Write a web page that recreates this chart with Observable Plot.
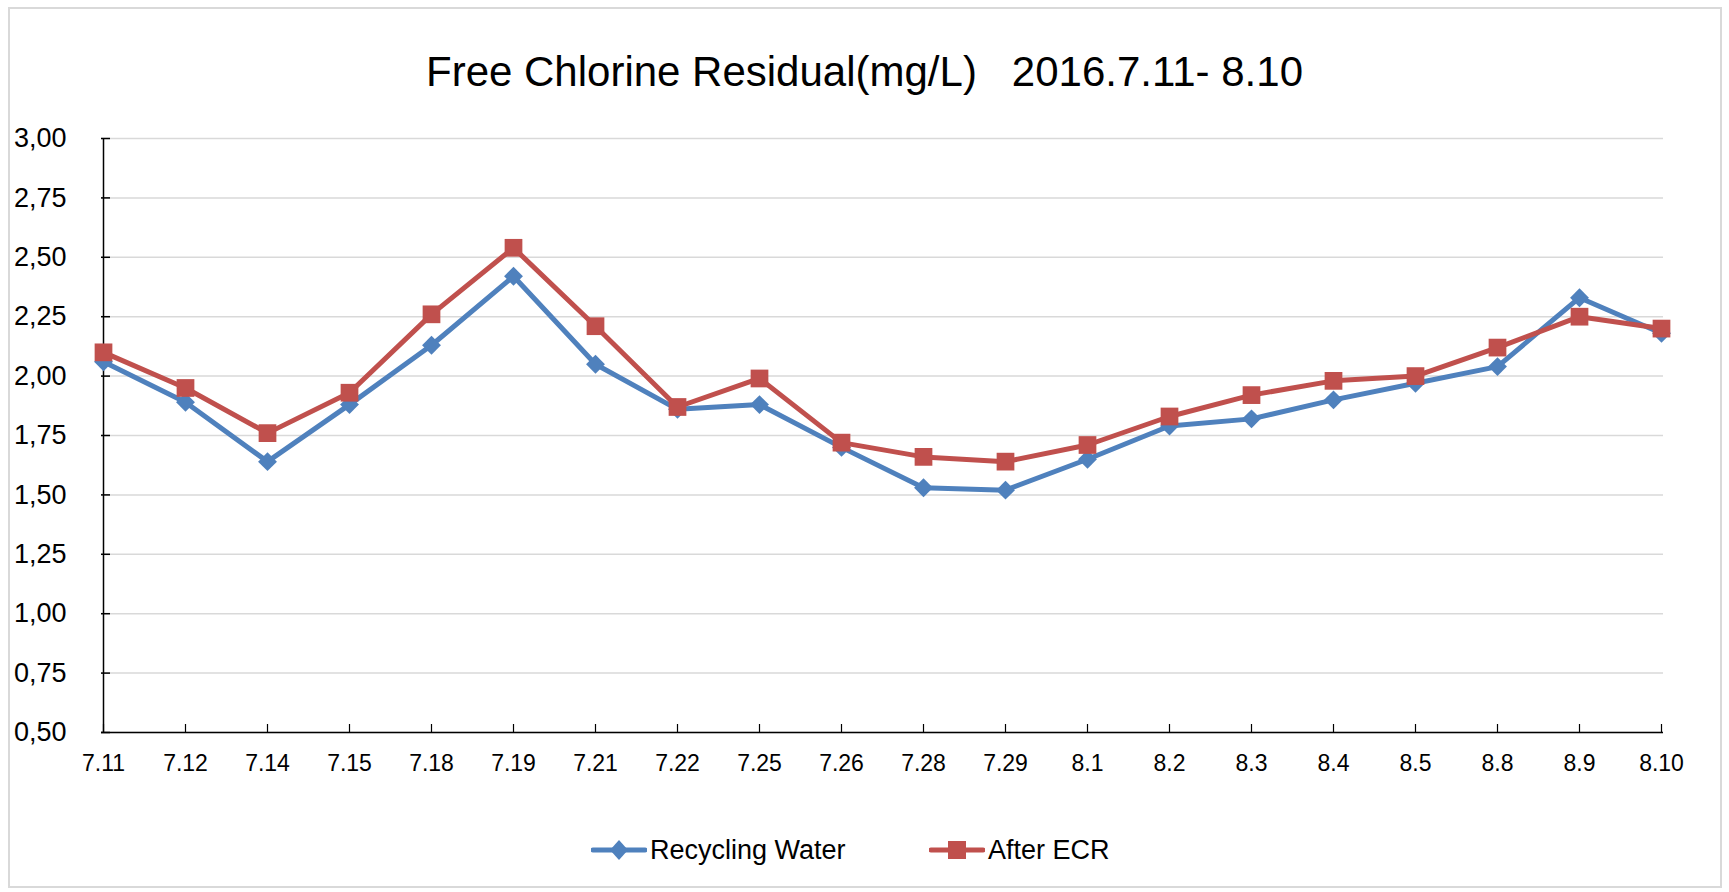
<!DOCTYPE html>
<html>
<head>
<meta charset="utf-8">
<script src="https://cdn.jsdelivr.net/npm/d3@7"></script>
<script src="https://cdn.jsdelivr.net/npm/@observablehq/plot@0.6"></script>
<style>
  html, body { margin: 0; padding: 0; background: #fff; }
  body { font-family: "Liberation Sans", Arial, sans-serif; }
  #wrap { position: relative; width: 1729px; height: 892px; overflow: hidden; background: #fff; }
  #frame { position: absolute; left: 8px; top: 7px; width: 1714px; height: 881px; box-sizing: border-box; border: 2px solid #d9d9d9; z-index: 5; pointer-events: none; }
  #title { position: absolute; left: 0; top: 48px; width: 1729px; text-align: center; font-size: 42px; line-height: 48px; color: #000; white-space: pre; }
  #chart { position: absolute; left: 0; top: 110px; }
  #legend { position: absolute; left: 0; top: 832px; width: 1729px; height: 36px; }
  .item { position: absolute; top: 0; height: 36px; display: flex; align-items: center; font-size: 27px; color: #000; }
  .item svg { margin-right: 3px; }
</style>
</head>
<body>
<div id="wrap">
  <div id="frame"></div>
  <div id="title">Free Chlorine Residual(mg/L)   2016.7.11- 8.10</div>
  <div id="chart"></div>
  <div id="legend"></div>
</div>
<script>
const dates = ["7.11","7.12","7.14","7.15","7.18","7.19","7.21","7.22","7.25","7.26","7.28","7.29","8.1","8.2","8.3","8.4","8.5","8.8","8.9","8.10"];
const recyclingWater = [2.06,1.89,1.64,1.88,2.13,2.42,2.05,1.86,1.88,1.70,1.53,1.52,1.65,1.79,1.82,1.90,1.97,2.04,2.33,2.18];
const afterECR = [2.10,1.95,1.76,1.93,2.26,2.54,2.21,1.87,1.99,1.72,1.66,1.64,1.71,1.83,1.92,1.98,2.00,2.12,2.25,2.20];
const yTicks = [0.5,0.75,1.0,1.25,1.5,1.75,2.0,2.25,2.5,2.75,3.0];
const seriesNames = ["Recycling Water","After ECR"];
const seriesColors = ["#4F81BD","#C0504D"];

const W = 1729, H = 690, mL = 101, mR = 66, mT = 28, mB = 68;
const plotW = W - mL - mR, plotH = H - mT - mB;

const blue = dates.map((d,i) => ({date: d, value: recyclingWater[i]}));
const red = dates.map((d,i) => ({date: d, value: afterECR[i]}));
const fmt = v => v.toFixed(2).replace(".", ",");

const chart = Plot.plot({
  width: W, height: H,
  marginLeft: mL, marginRight: mR, marginTop: mT, marginBottom: mB,
  style: {fontFamily: "'Liberation Sans', Arial, sans-serif", background: "transparent", overflow: "visible"},
  x: {type: "point", domain: dates, padding: 0},
  y: {domain: [0.5, 3.0]},
  marks: [
    Plot.gridY(yTicks, {stroke: "#d9d9d9", strokeOpacity: 1, strokeWidth: 1.5}),
    Plot.ruleY([0.5], {stroke: "#000", strokeWidth: 1.5}),
    Plot.ruleX([dates[0]], {y1: 0.5, y2: 3.0, stroke: "#000", strokeWidth: 1.5}),
    Plot.tickY(yTicks, {y: d => d, stroke: "#000", strokeWidth: 1.5, insetRight: plotW - 9}),
    Plot.tickX(dates, {x: d => d, stroke: "#000", strokeWidth: 1.2, insetTop: plotH - 8}),
    Plot.axisY(yTicks, {tickSize: 0, tickPadding: 35, tickFormat: fmt, fontSize: 27, fill: "#000", label: null}),
    Plot.axisX(dates, {tickSize: 0, tickPadding: 22, fontSize: 23, fill: "#000", label: null}),
    Plot.line(blue, {x: "date", y: "value", stroke: seriesColors[0], strokeWidth: 5, curve: "linear"}),
    Plot.dot(blue, {x: "date", y: "value", symbol: "diamond2", r: 8.5, fill: seriesColors[0], stroke: "none"}),
    Plot.line(red, {x: "date", y: "value", stroke: seriesColors[1], strokeWidth: 5, curve: "linear"}),
    Plot.dot(red, {x: "date", y: "value", symbol: "square", r: 10, fill: seriesColors[1], stroke: "none"})
  ]
});
document.getElementById("chart").appendChild(chart);

// Legend
const legend = document.getElementById("legend");
const lefts = [591, 929];
seriesNames.forEach((name, i) => {
  const item = document.createElement("div");
  item.className = "item";
  item.style.left = lefts[i] + "px";
  const marker = i === 0
    ? `<polygon points="28,8 37,18 28,28 19,18" fill="${seriesColors[i]}"/>`
    : `<rect x="19" y="9" width="18" height="18" fill="${seriesColors[i]}"/>`;
  item.innerHTML = `<svg width="56" height="36"><line x1="2" y1="18" x2="54" y2="18" stroke="${seriesColors[i]}" stroke-width="5" stroke-linecap="round"/>${marker}</svg><span>${name}</span>`;
  legend.appendChild(item);
});
</script>
</body>
</html>
